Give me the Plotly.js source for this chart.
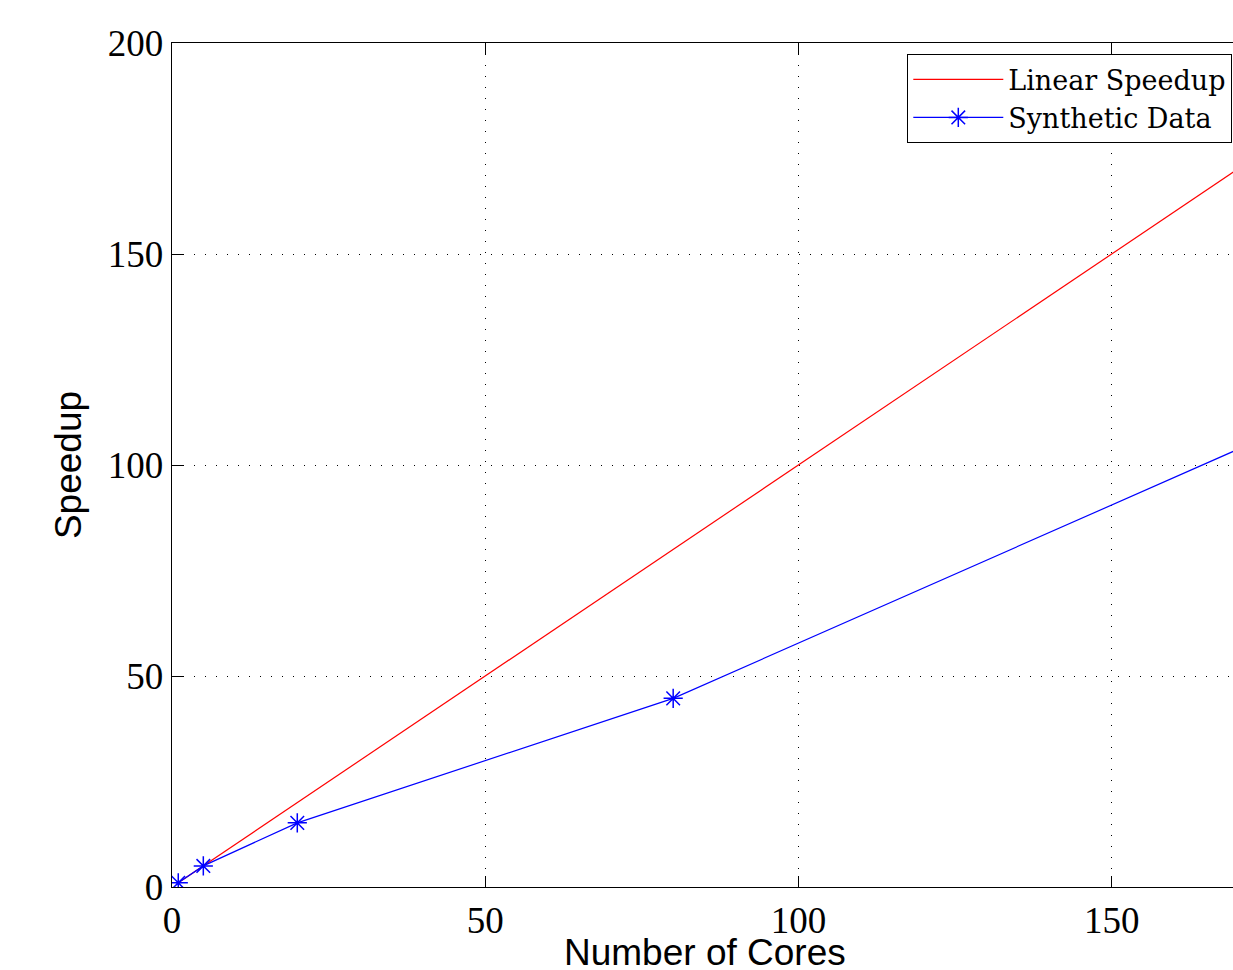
<!DOCTYPE html>
<html>
<head>
<meta charset="utf-8">
<script src="https://cdn.plot.ly/plotly-3.0.1.min.js"></script>
<style>
html, body { margin: 0; padding: 0; overflow: hidden; background: #fff; }
#chart { width: 1241px; height: 970px; }
</style>
</head>
<body>
<div id="chart"></div>
<script>
const linearCores = [1, 320];
const linearSpeedup = [1, 320];
const syntheticCores = [1, 5, 20, 80, 320];
const syntheticSpeedup = [1, 5, 15.2, 44.7, 201.8];
const xTicks = [0, 50, 100, 150];
const yTicks = [0, 50, 100, 150, 200];
const xTitle = 'Number of Cores';
const yTitle = 'Speedup';

const traces = [
  {
    x: linearCores, y: linearSpeedup, name: 'Linear Speedup',
    type: 'scatter', mode: 'lines',
    line: { color: '#ff0000', width: 1.2 }
  },
  {
    x: syntheticCores, y: syntheticSpeedup, name: 'Synthetic Data',
    type: 'scatter', mode: 'lines+markers',
    line: { color: '#0000ff', width: 1.2 },
    marker: { symbol: 'asterisk-open', size: 16, color: '#0000ff', line: { color: '#0000ff', width: 1.5 } }
  }
];

const axisCommon = {
  showline: true, linecolor: '#000', linewidth: 1.3,
  ticks: 'inside', ticklen: 11, tickcolor: '#000', tickwidth: 1,
  showgrid: true, gridcolor: '#000', gridwidth: 1, griddash: '1px,10px',
  zeroline: false,
  tickfont: { family: 'Liberation Serif, Times New Roman, serif', size: 37, color: '#000' }
};

const layout = {
  width: 1241, height: 970,
  margin: { l: 172, r: 4, t: 43, b: 83 },
  paper_bgcolor: '#fff', plot_bgcolor: '#fff',
  showlegend: true,
  xaxis: Object.assign({}, axisCommon, {
    mirror: 'ticks',
    range: [0, 170], tickvals: xTicks, ticktext: xTicks.map(String),
    title: { text: '' },
    automargin: false
  }),
  yaxis: Object.assign({}, axisCommon, {
    mirror: false,
    range: [0, 200], tickvals: yTicks, ticktext: yTicks.map(String),
    title: { text: yTitle, font: { family: 'Liberation Sans, Arial, sans-serif', size: 37, color: '#000' }, standoff: 14 },
    automargin: false
  }),
  annotations: [{
    text: xTitle, xref: 'paper', yref: 'paper', x: 0.5, y: -0.0775,
    xanchor: 'center', yanchor: 'middle', showarrow: false,
    font: { family: 'Liberation Sans, Arial, sans-serif', size: 37, color: '#000' }
  }],
  legend: {
    x: (1232 - 172) / 1065, y: 0.987, xanchor: 'right', yanchor: 'top',
    bgcolor: '#fff', bordercolor: '#000', borderwidth: 1.3,
    font: { family: 'DejaVu Serif, Liberation Serif, serif', size: 27, color: '#000' },
    tracegroupgap: 0, itemwidth: 90
  }
};

Plotly.newPlot('chart', traces, layout, { displayModeBar: false, staticPlot: true });
</script>
</body>
</html>
